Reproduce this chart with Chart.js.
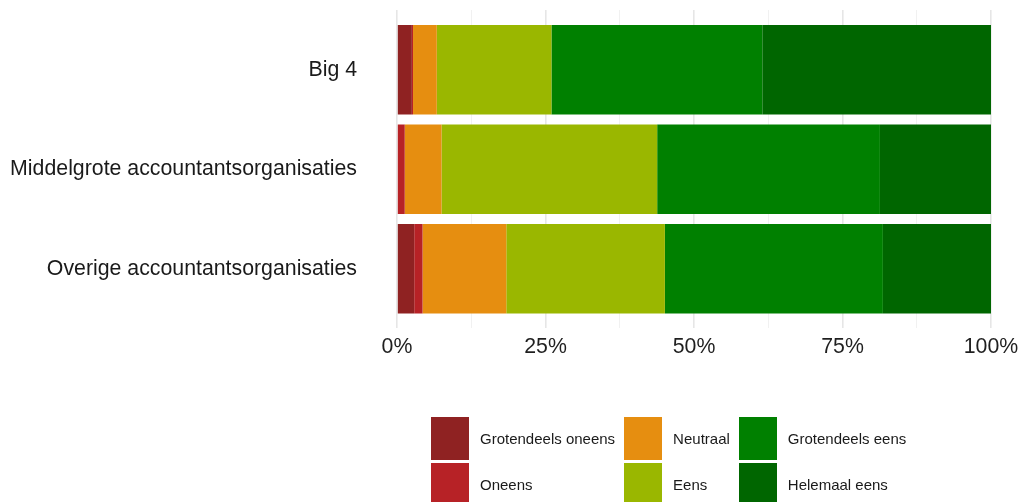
<!DOCTYPE html>
<html>
<head>
<meta charset="utf-8">
<script src="https://cdn.jsdelivr.net/npm/chart.js@4/dist/chart.umd.min.js"></script>
<style>
  html, body { margin: 0; padding: 0; background: #ffffff; }
  #wrap { position: relative; width: 1019px; height: 502px; overflow: hidden; }
  #c { position: absolute; left: 0; top: 0; }
  #legend {
    position: absolute; left: 431px; top: 417px;
    display: grid; grid-auto-flow: column;
    grid-template-rows: 43px 43px; row-gap: 3px; column-gap: 9px;
    font-family: "Liberation Sans", Arial, sans-serif; font-size: 15px; color: #1a1a1a;
  }
  .item { display: flex; align-items: center; }
  .sw { width: 38px; height: 43px; margin-right: 11px; box-sizing: border-box; }
</style>
</head>
<body>
<div id="wrap">
  <canvas id="c" width="1019" height="502"></canvas>
  <div id="legend"></div>
</div>
<script>
const categories = ['Big 4', 'Middelgrote accountantsorganisaties', 'Overige accountantsorganisaties'];
const seriesNames = ['Grotendeels oneens', 'Oneens', 'Neutraal', 'Eens', 'Grotendeels eens', 'Helemaal eens'];
const grotendeelsOneens = [2.5, 0.0, 2.9];
const oneens = [0.2, 1.3, 1.4];
const neutraal = [4.0, 6.2, 14.1];
const eens = [19.3, 36.3, 26.7];
const grotendeelsEens = [35.5, 37.5, 36.7];
const helemaalEens = [38.5, 18.7, 18.2];
const xTickValues = [0, 25, 50, 75, 100];

const seriesValues = [grotendeelsOneens, oneens, neutraal, eens, grotendeelsEens, helemaalEens];
const seriesColors = ['#8f2222', '#b72226', '#e68e10', '#9ab700', '#008000', '#006600'];

const datasets = seriesNames.map((name, s) => ({
  label: name,
  data: seriesValues[s].map((v, i) => ({ x: v, y: i })),
  backgroundColor: seriesColors[s],
  borderWidth: 0,
  barPercentage: 0.9,
  categoryPercentage: 1.0
}));

const chart = new Chart(document.getElementById('c'), {
  type: 'bar',
  data: { datasets },
  options: {
    responsive: false,
    animation: false,
    indexAxis: 'y',
    layout: { padding: { left: 0, right: 28, top: 10, bottom: 133.6 } },
    plugins: { legend: { display: false }, tooltip: { enabled: false } },
    scales: {
      x: {
        type: 'linear', stacked: true, min: 0, max: 100,
        border: { display: false },
        grid: {
          color: (ctx) => (ctx.tick && xTickValues.includes(ctx.tick.value)) ? '#e6e6e6' : '#f1f1f1',
          lineWidth: (ctx) => (ctx.tick && xTickValues.includes(ctx.tick.value)) ? 1.6 : 1,
          drawTicks: false
        },
        ticks: {
          stepSize: 12.5, autoSkip: false, maxRotation: 0, padding: 6,
          color: '#1f1f1f',
          font: { family: '"Liberation Sans", Arial, sans-serif', size: 21.3 },
          callback: (v) => xTickValues.includes(v) ? v + '%' : ''
        },
        afterFit: (scale) => { scale.height = 40; scale.paddingLeft = 0; scale.paddingRight = 0; }
      },
      y: {
        type: 'linear', stacked: true, reverse: true, offset: false,
        min: -0.6, max: categories.length - 0.4,
        border: { display: false },
        grid: { display: false, drawTicks: false, offset: false },
        afterBuildTicks: (scale) => { scale.ticks = categories.map((c, i) => ({ value: i })); },
        ticks: {
          padding: 40, autoSkip: false,
          color: '#1a1a1a',
          font: { family: '"Liberation Sans", Arial, sans-serif', size: 21.3 },
          callback: (v) => categories[v]
        },
        afterFit: (scale) => { scale.width = 397; scale.paddingTop = 0; scale.paddingBottom = 0; }
      }
    }
  }
});

const legend = document.getElementById('legend');
chart.data.datasets.forEach((ds) => {
  const item = document.createElement('div');
  item.className = 'item';
  const sw = document.createElement('div');
  sw.className = 'sw';
  sw.style.background = ds.backgroundColor;
  const tx = document.createElement('span');
  tx.textContent = ds.label;
  item.appendChild(sw);
  item.appendChild(tx);
  legend.appendChild(item);
});
</script>
</body>
</html>
